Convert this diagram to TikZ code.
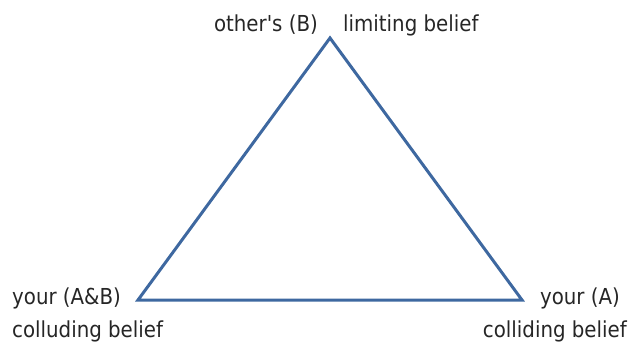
\documentclass[tikz,border=0pt]{standalone}
\usepackage{fontspec}
\setmainfont{DejaVu Sans Condensed}
\definecolor{tri}{RGB}{62,104,160}
\begin{document}
\begin{tikzpicture}[x=1pt,y=1pt,
  lbl/.style={inner sep=0pt,font=\fontsize{22}{26}\selectfont,text=black!85}]
\useasboundingbox (0,0) rectangle (631,348);
\coordinate (T) at (330,310);
\coordinate (L) at (138,48);
\coordinate (R) at (522,48);
\draw[tri,line width=3pt,line join=miter] (T) -- (R) -- (L) -- cycle;
\node[lbl,anchor=east] (tl) at (318,323) {other\textquotesingle s (B)};
\node[lbl,anchor=west] (tr) at (343,323) {limiting belief};
\node[lbl,anchor=west] (l1) at (12,50) {your (A\&B)};
\node[lbl,anchor=west] (l2) at (12,17) {colluding belief};
\node[lbl,anchor=east] (r1) at (620,50) {your (A)};
\node[lbl,anchor=east] (r2) at (627,17) {colliding belief};
\end{tikzpicture}
\end{document}
